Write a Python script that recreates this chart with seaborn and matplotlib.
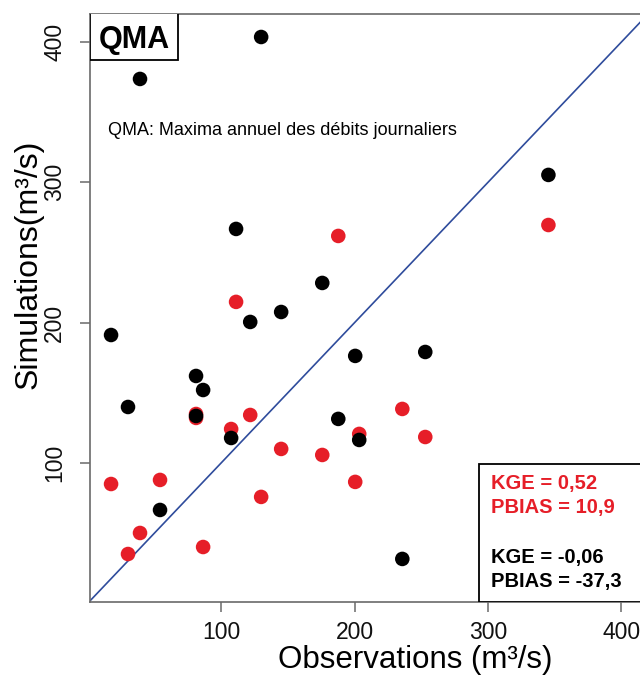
import matplotlib
matplotlib.use("Agg")
import pandas as pd
from matplotlib import pyplot as plt
from matplotlib.patches import Rectangle
import seaborn as sns

# observed daily-flow annual maxima (m3/s) and the two simulations
obs = [17.5, 30.2, 39.2, 54.2, 81.2, 81.2, 86.5, 107.5, 111.2, 121.8,
       130.0, 145.0, 175.8, 187.8, 200.5, 203.5, 235.8, 253.0, 345.3]
sim_black = [191.2, 139.9, 373.7, 66.5, 162.0, 133.5, 152.0, 117.8, 266.8, 200.5,
             403.6, 207.6, 228.3, 131.4, 176.3, 116.4, 31.6, 179.1, 305.3]
sim_red = [85.0, 35.1, 50.1, 87.9, 134.9, 132.1, 40.1, 124.2, 214.8, 134.2,
           75.8, 110.0, 105.7, 261.8, 86.5, 120.7, 138.5, 118.5, 269.6]
stats_red = ['KGE = 0,52', 'PBIAS = 10,9']
stats_black = ['KGE = -0,06', 'PBIAS = -37,3']
ticks = [100, 200, 300, 400]

red = '#e61e28'
blue = '#2f4c9c'
grey = '#6a6a6a'

df = pd.DataFrame({'obs': obs, 'black': sim_black, 'red': sim_red})

sns.set_style('ticks')
plt.rcParams['font.family'] = ['Liberation Sans', 'DejaVu Sans']
plt.rcParams['text.color'] = 'black'
plt.rcParams['axes.labelcolor'] = 'black'

fig = plt.figure(figsize=(6.4, 6.79), dpi=100)
ax = fig.add_axes([0.1406, 0.1134, 0.872, 0.866])

xmin, xmax, ymin, ymax = 1.7, 420, 0.9, 420
ax.plot([0, 420], [0, 420], color=blue, lw=1.2, zorder=1)

sns.scatterplot(data=df, x='obs', y='red', color=red, s=110, edgecolor='none', ax=ax, zorder=2)
sns.scatterplot(data=df, x='obs', y='black', color='black', s=110, edgecolor='none', ax=ax, zorder=3)

ax.set_xlim(xmin, xmax)
ax.set_ylim(ymin, ymax)
ax.set_xticks(ticks)
ax.set_yticks(ticks)
ax.tick_params(axis='both', direction='out', length=7, width=1.1, color=grey,
               labelsize=16.5, labelcolor='#111111', pad=7)
ax.tick_params(axis='y', pad=10)
for lab in ax.get_yticklabels():
    lab.set_rotation(90)
    lab.set_va('center')
for side in ['left', 'bottom', 'top', 'right']:
    ax.spines[side].set_color(grey)
    ax.spines[side].set_linewidth(1.2)

ax.set_xlabel('Observations (m³/s)', fontsize=22.5)
ax.set_ylabel('Simulations(m³/s)', fontsize=23)
ax.xaxis.label.set_va('center')
ax.yaxis.label.set_va('center')
ax.xaxis.set_label_coords(0.582, -0.099)
ax.yaxis.set_label_coords(-0.111, 0.575)

# panel tag
ax.add_patch(Rectangle((xmin, 387.2), 67.7 - xmin, 40, facecolor='white',
                       edgecolor='black', lw=1.3, zorder=4))
ax.text(34.7, 401.5, 'QMA', fontsize=22, fontweight='bold', ha='center', va='center', zorder=5)
ax.text(15.2, 337.3, 'QMA: Maxima annuel des débits journaliers', fontsize=13,
        ha='left', va='center')

# stats box
ax.add_patch(Rectangle((293.5, ymin), 200, 99.3 - ymin, facecolor='white',
                       edgecolor='black', lw=1.3, zorder=4))
for txt, yy in zip(stats_red, [85.7, 68.6]):
    ax.text(302.5, yy, txt, color=red, fontsize=14.5, fontweight='bold', va='center', zorder=5)
for txt, yy in zip(stats_black, [32.3, 15.2]):
    ax.text(302.5, yy, txt, color='black', fontsize=14.5, fontweight='bold', va='center', zorder=5)

plt.savefig('out.png', dpi=100)
